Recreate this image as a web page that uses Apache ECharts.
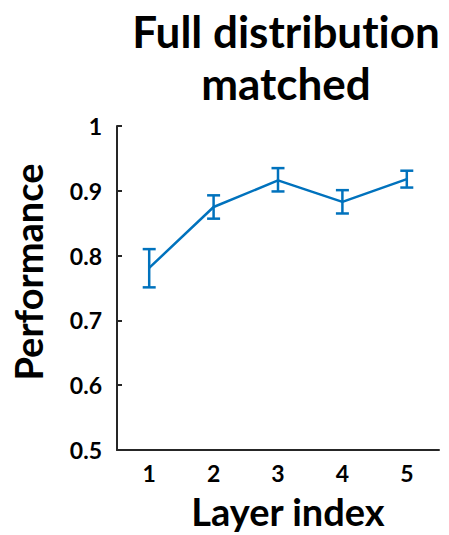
<!DOCTYPE html>
<html><head><meta charset="utf-8">
<script src="https://cdn.jsdelivr.net/npm/echarts@6/dist/echarts.min.js"></script>
<style>html,body{margin:0;padding:0;background:#fff}#c{width:449px;height:535px}
#c, #c svg, #c text{font-variant-ligatures:none;font-feature-settings:"liga" 0,"clig" 0}</style>
</head><body><div id="c"></div>
<script>
const categories = ['1', '2', '3', '4', '5'];
const meanValues = [0.781, 0.875, 0.916, 0.883, 0.918];
const upperValues = [0.810, 0.893, 0.935, 0.901, 0.931];
const lowerValues = [0.751, 0.857, 0.899, 0.865, 0.905];
const yTicks = [0.5, 0.6, 0.7, 0.8, 0.9, 1];

const FONT = 'Lato';
const BLUE = '#0072BD';
const chart = echarts.init(document.getElementById('c'), null, {renderer: 'svg'});
const errData = categories.map((c, i) => [i, lowerValues[i], upperValues[i]]);
chart.setOption({
  animation: false,
  backgroundColor: '#fff',
  title: {
    text: 'Full distribution\nmatched',
    left: 281, top: 0, textAlign: 'center',
    textStyle: {fontFamily: FONT, fontWeight: 'bold', fontSize: 44, lineHeight: 52, color: '#000'}
  },
  grid: {left: 117, top: 126, right: 10, bottom: 85, containLabel: false},
  xAxis: {
    type: 'category', data: categories, boundaryGap: true,
    name: 'Layer index', nameLocation: 'middle', nameGap: 42,
    nameTextStyle: {fontFamily: FONT, fontWeight: 'bold', fontSize: 38, color: '#000', padding: [0, 0, 0, 20]},
    axisLine: {lineStyle: {color: '#262626', width: 2}},
    axisTick: {inside: true, alignWithLabel: true, length: 5, lineStyle: {color: '#262626', width: 2}},
    axisLabel: {fontFamily: FONT, fontWeight: 'bold', fontSize: 23, color: '#000', margin: 11},
    splitLine: {show: false}
  },
  yAxis: {
    type: 'value', min: 0.5, max: 1, interval: 0.1,
    name: 'Performance', nameLocation: 'middle', nameGap: 70,
    nameTextStyle: {fontFamily: FONT, fontWeight: 'bold', fontSize: 38, color: '#000', padding: [0, 0, 0, 32]},
    axisLine: {show: true, lineStyle: {color: '#262626', width: 2}},
    axisTick: {show: true, inside: true, length: 5, lineStyle: {color: '#262626', width: 2}},
    axisLabel: {fontFamily: FONT, fontWeight: 'bold', fontSize: 23, color: '#000', margin: 15,
      formatter: v => (Math.abs(v - 1) < 1e-9 ? '1' : v.toFixed(1))},
    splitLine: {show: false}
  },
  series: [
    {
      type: 'line', data: meanValues, symbol: 'none',
      lineStyle: {color: BLUE, width: 2.5}, z: 2
    },
    {
      type: 'custom', data: errData, z: 3,
      renderItem: function (params, api) {
        const x = api.value(0);
        const lo = api.coord([x, api.value(1)]);
        const hi = api.coord([x, api.value(2)]);
        const hw = 6.5;
        const st = {stroke: BLUE, lineWidth: 2.5, fill: null};
        return {type: 'group', children: [
          {type: 'line', shape: {x1: lo[0], y1: lo[1], x2: hi[0], y2: hi[1]}, style: st},
          {type: 'line', shape: {x1: lo[0] - hw, y1: lo[1], x2: lo[0] + hw, y2: lo[1]}, style: st},
          {type: 'line', shape: {x1: hi[0] - hw, y1: hi[1], x2: hi[0] + hw, y2: hi[1]}, style: st}
        ]};
      }
    }
  ]
});
</script></body></html>
